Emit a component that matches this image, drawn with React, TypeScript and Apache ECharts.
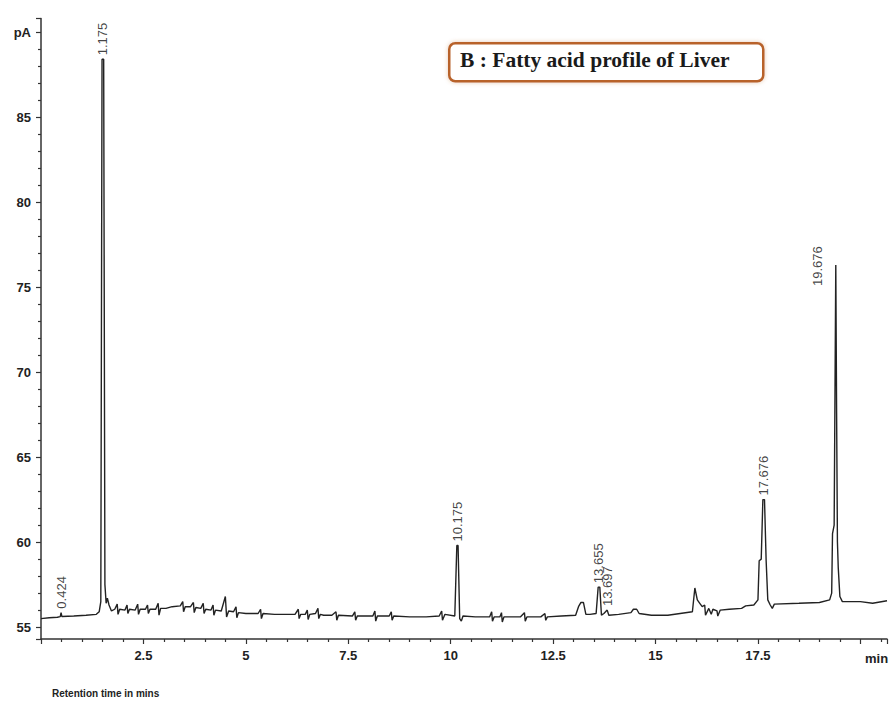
import React, { useEffect, useRef } from "react";
import * as echarts from "echarts";

// Chromatogram trace (retention time in min, signal in pA)
const retentionTime: number[] = [
  0.0, 0.2, 0.4, 0.47, 0.49, 0.51, 0.8, 1.1, 1.35, 1.42, 1.46, 1.49, 1.53, 1.56, 1.59, 1.62, 1.66, 1.72,
  1.8, 1.86, 1.88, 1.92, 2.05, 2.1, 2.12, 2.16, 2.3, 2.36, 2.38, 2.42, 2.55, 2.6, 2.62, 2.66,
  2.8, 2.86, 2.88, 2.92, 3.05, 3.2, 3.4, 3.46, 3.48, 3.52, 3.65, 3.72, 3.74, 3.78,
  3.9, 3.96, 3.98, 4.02, 4.15, 4.2, 4.22, 4.26, 4.4, 4.5, 4.53, 4.58, 4.7, 4.76, 4.78, 4.82,
  5.0, 5.3, 5.36, 5.38, 5.42, 5.7, 5.9, 6.2, 6.28, 6.3, 6.34, 6.45, 6.5, 6.52, 6.56,
  6.7, 6.76, 6.78, 6.82, 6.9, 7.1, 7.2, 7.22, 7.26, 7.6, 7.66, 7.68, 7.72,
  8.1, 8.15, 8.17, 8.21, 8.5, 8.55, 8.57, 8.61, 9.0, 9.4, 9.72, 9.78, 9.8, 9.86,
  10.1, 10.15, 10.18, 10.22, 10.26, 10.3, 10.6, 10.95, 11.0, 11.02, 11.06, 11.2, 11.24, 11.26, 11.3,
  11.7, 11.8, 11.82, 11.86, 12.2, 12.3, 12.32, 12.36, 12.7, 13.05, 13.12, 13.18, 13.24, 13.3, 13.4,
  13.55, 13.6, 13.64, 13.68, 13.74, 13.82, 13.86, 14.1, 14.4, 14.46, 14.54, 14.6, 14.9, 15.3, 15.6,
  15.9, 15.96, 16.02, 16.08, 16.14, 16.2, 16.22, 16.3, 16.36, 16.4, 16.5, 16.52, 16.58, 16.8,
  17.1, 17.2, 17.4, 17.5, 17.53, 17.58, 17.62, 17.66, 17.7, 17.74, 17.8, 17.85, 17.9, 18.5,
  19.0, 19.25, 19.3, 19.32, 19.36, 19.4, 19.42, 19.44, 19.46, 19.5, 19.56, 20.0, 20.3, 20.65,
];
const signal: number[] = [
  55.5, 55.55, 55.58, 55.62, 55.85, 55.62, 55.65, 55.7, 55.75, 55.9, 56.5, 88.4, 88.4, 57.5, 56.4, 56.7, 56.3, 55.95,
  56.05, 56.35, 55.75, 56.05, 56.0, 56.3, 55.8, 56.05, 56.0, 56.35, 55.75, 56.05, 56.05, 56.3, 55.8, 56.05,
  56.05, 56.4, 55.7, 56.1, 56.1, 56.2, 56.25, 56.5, 55.9, 56.2, 56.2, 56.45, 55.85, 56.15,
  56.1, 56.4, 55.8, 56.05, 56.0, 56.3, 55.7, 56.0, 55.95, 56.8, 55.6, 55.95, 55.9, 56.2, 55.55, 55.85,
  55.8, 55.8, 56.05, 55.5, 55.8, 55.75, 55.75, 55.75, 56.05, 55.5, 55.75, 55.75, 56.0, 55.45, 55.75,
  55.8, 56.1, 55.5, 55.75, 55.7, 55.7, 55.9, 55.4, 55.7, 55.65, 55.9, 55.4, 55.65,
  55.65, 55.95, 55.35, 55.65, 55.65, 55.9, 55.4, 55.65, 55.6, 55.6, 55.65, 55.95, 55.4, 55.75,
  55.65, 59.8, 59.8, 55.5, 55.35, 55.65, 55.6, 55.6, 55.9, 55.35, 55.6, 55.6, 55.85, 55.3, 55.6,
  55.6, 55.85, 55.35, 55.6, 55.6, 55.8, 55.4, 55.6, 55.65, 55.7, 56.2, 56.45, 56.45, 55.75, 55.75,
  55.8, 57.35, 57.35, 55.7, 55.8, 56.0, 55.7, 55.75, 55.85, 56.05, 56.05, 55.8, 55.7, 55.7, 55.8,
  55.9, 57.3, 56.6, 56.4, 56.2, 56.3, 55.7, 56.1, 55.75, 56.05, 55.95, 55.65, 56.0, 56.05,
  56.1, 56.25, 56.3, 56.6, 58.9, 59.0, 62.5, 62.5, 58.9, 56.6, 56.3, 56.1, 56.35, 56.4,
  56.45, 56.6, 57.0, 60.5, 61.0, 76.3, 67.6, 60.0, 58.5, 56.8, 56.5, 56.5, 56.4, 56.55,
];

// Peak annotations
const peakLabels: string[] = ["0.424", "1.175", "10.175", "13.655", "13.697", "17.676", "19.676"];
const peakTime: number[] = [0.49, 1.51, 10.165, 13.62, 13.82, 17.64, 19.4];
const peakSignal: number[] = [55.85, 88.4, 59.8, 57.35, 56.0, 62.5, 76.3];

const title = "B : Fatty acid profile of Liver";
const yUnit = "pA";
const xUnit = "min";
const xAxisTitle = "Retention time in mins";

export default function App() {
  const ref = useRef<HTMLDivElement>(null);
  useEffect(() => {
    document.body.style.margin = "0";
    if (!ref.current) return;
    const chart = echarts.init(ref.current, null, { renderer: "svg" });
    const trace = retentionTime.map((t, i) => [t, signal[i]]);
    const peaks = peakTime.map((t, i) => ({ value: [t, peakSignal[i]], name: peakLabels[i] }));
    const axisText = { color: "#222", fontFamily: "Liberation Sans, Arial", fontWeight: "bold" as const, fontSize: 13 };
    chart.setOption({
      animation: false,
      backgroundColor: "#ffffff",
      grid: { left: 41, right: 2.3, top: 18.5, bottom: 63, containLabel: false },
      xAxis: {
        type: "value",
        min: 0,
        max: 20.65,
        interval: 2.5,
        axisLine: { show: true, onZero: false, lineStyle: { color: "#333", width: 1.5 } },
        axisTick: { show: true, length: 5, lineStyle: { color: "#333", width: 1.2 } },
        minorTick: { show: true, splitNumber: 5, length: 3, lineStyle: { color: "#333", width: 1.2 } },
        splitLine: { show: false },
        axisLabel: {
          ...axisText,
          margin: 10,
          showMinLabel: true,
          showMaxLabel: true,
          formatter: (v: number) => (v === 0 || v === 20 || v % 2.5 !== 0 ? "" : String(v)),
        },
      },
      yAxis: {
        type: "value",
        min: 54.3,
        max: 90.8,
        minInterval: 5,
        maxInterval: 5,
        axisLine: { show: true, lineStyle: { color: "#333", width: 1.5 } },
        axisTick: { show: true, length: 5, lineStyle: { color: "#333", width: 1.2 } },
        minorTick: { show: true, splitNumber: 5, length: 3, lineStyle: { color: "#333", width: 1.2 } },
        splitLine: { show: false },
        axisLabel: {
          ...axisText,
          margin: 10,
          showMinLabel: true,
          showMaxLabel: true,
          formatter: (v: number) => (v === 90 ? yUnit : v % 5 === 0 ? String(v) : ""),
        },
      },
      series: [
        {
          type: "line",
          data: trace,
          showSymbol: false,
          symbol: "none",
          lineStyle: { color: "#222", width: 1.4 },
          z: 2,
        },
        {
          type: "scatter",
          data: peaks,
          symbolSize: 2,
          itemStyle: { color: "rgba(0,0,0,0)" },
          label: {
            show: true,
            formatter: "{b}",
            position: "top",
            distance: 3,
            rotate: 90,
            align: "left",
            verticalAlign: "middle",
            color: "#111",
            fontFamily: "Liberation Sans, Arial",
            fontSize: 13,
          },
          labelLayout: (p: any) => (p.dataIndex === 6 ? { dx: -25, dy: -18, hideOverlap: false } : { hideOverlap: false }),
          z: 3,
        },
      ],
      graphic: [
        {
          type: "rect",
          left: 448,
          top: 42,
          shape: { width: 314, height: 38, r: 6 },
          style: { fill: "#ffffff", stroke: "#b8622c", lineWidth: 2.5, shadowBlur: 4, shadowColor: "rgba(184,98,44,0.35)" },
          z: 10,
        },
        {
          type: "text",
          left: 460,
          top: 49,
          style: { text: title, fill: "#1a1a1a", font: "bold 21.5px 'Liberation Serif', 'Times New Roman', serif" },
          z: 11,
        },
        {
          type: "text",
          left: 865,
          top: 652,
          style: { text: xUnit, fill: "#222", font: "bold 13px 'Liberation Sans', Arial" },
        },
        {
          type: "text",
          left: 52,
          top: 688,
          style: { text: xAxisTitle, fill: "#222", font: "bold 10px 'Liberation Sans', Arial" },
        },
      ],
    });
    return () => chart.dispose();
  }, []);
  return <div ref={ref} style={{ width: 890, height: 702 }} />;
}
